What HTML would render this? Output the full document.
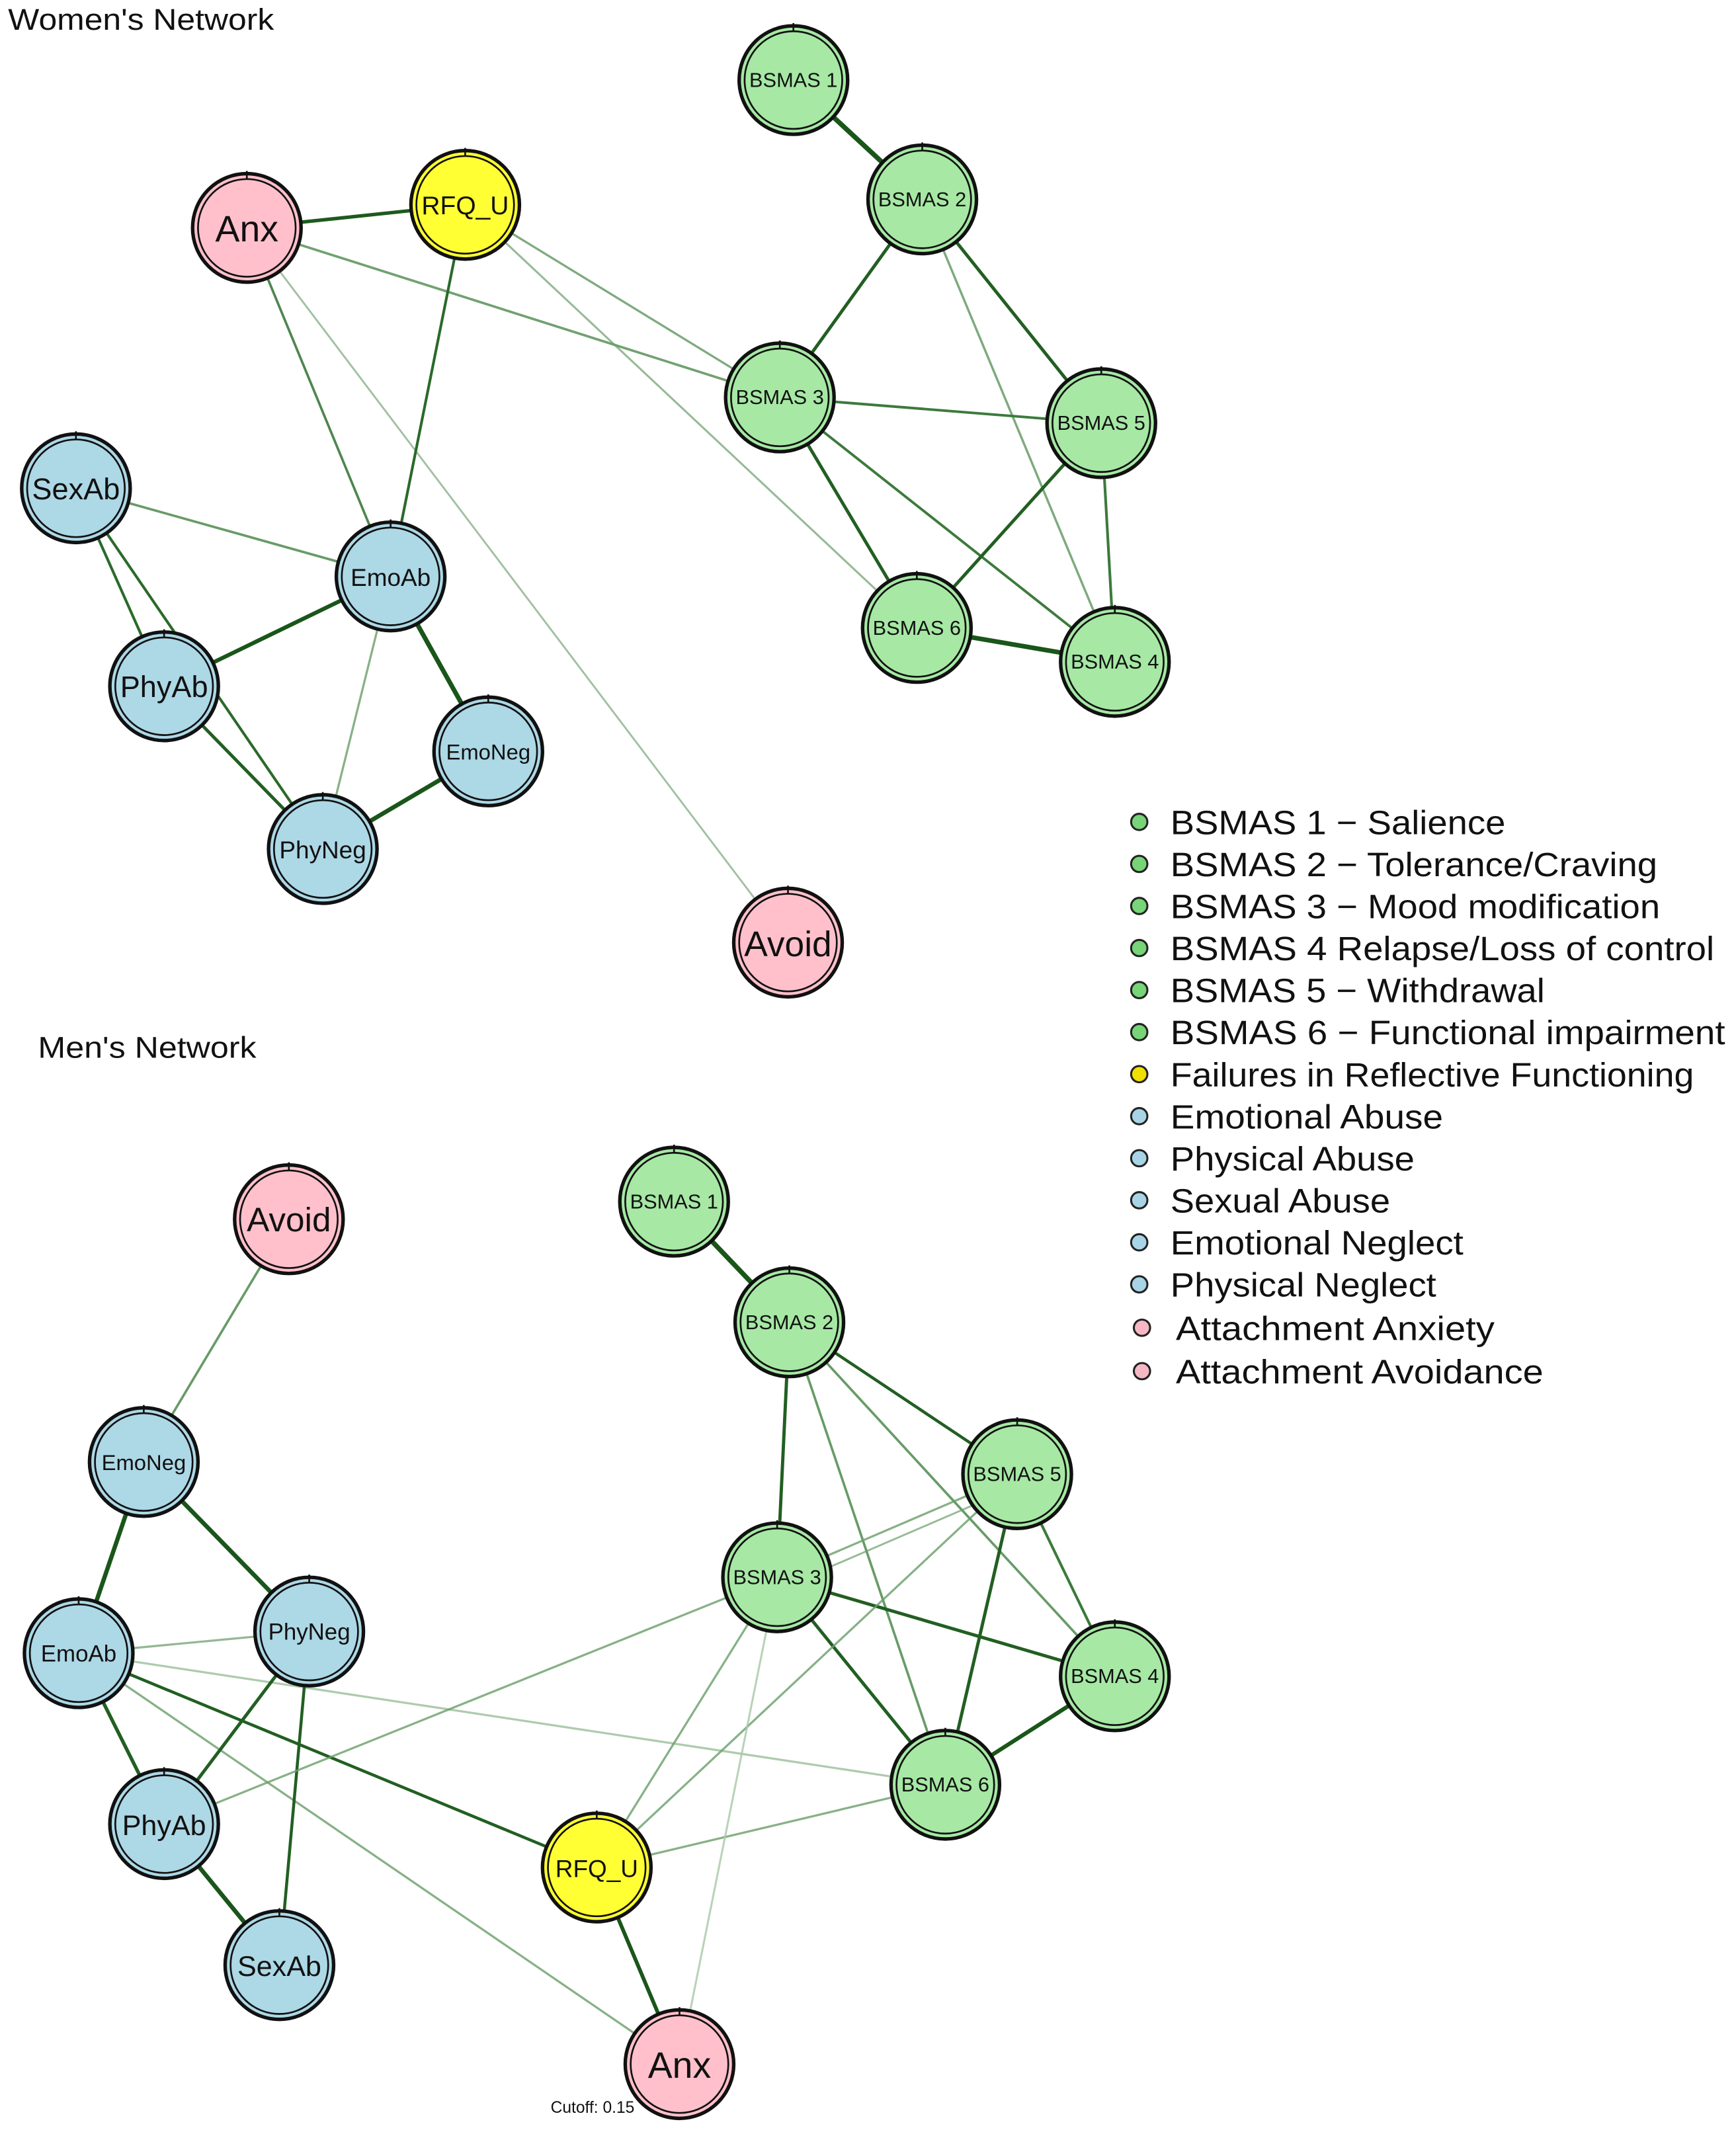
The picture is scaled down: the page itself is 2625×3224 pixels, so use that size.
<!DOCTYPE html>
<html><head><meta charset="utf-8"><style>
html,body{margin:0;padding:0;background:#fff;}
svg{display:block;}
text{font-family:"Liberation Sans",sans-serif;}
</style></head><body>
<svg width="2625" height="3224" viewBox="0 0 1280 1572" xmlns="http://www.w3.org/2000/svg">
<rect width="1280" height="1572" fill="#fff"/>
<text x="6" y="22" font-size="22" fill="#111" textLength="196" lengthAdjust="spacingAndGlyphs">Women's Network</text>
<text x="28" y="780" font-size="22" fill="#111" textLength="161" lengthAdjust="spacingAndGlyphs">Men's Network</text>

<!-- Women's edges -->
<g stroke-linecap="round">
<line x1="182" y1="168" x2="343" y2="151" stroke="#1d5a1d" stroke-width="2.6"/>
<line x1="182" y1="168" x2="575" y2="293" stroke="#4e8a4e" stroke-width="1.8" opacity="0.8"/>
<line x1="182" y1="168" x2="288" y2="425" stroke="#3c7a3c" stroke-width="1.8" opacity="0.9"/>
<line x1="182" y1="168" x2="581" y2="695" stroke="#7aa67a" stroke-width="1.4" opacity="0.7"/>
<line x1="343" y1="151" x2="288" y2="425" stroke="#2a6a2a" stroke-width="2"/>
<line x1="343" y1="151" x2="575" y2="293" stroke="#5e965e" stroke-width="1.6" opacity="0.8"/>
<line x1="343" y1="151" x2="676" y2="463" stroke="#6a9e6a" stroke-width="1.5" opacity="0.7"/>
<line x1="585" y1="59" x2="680" y2="147" stroke="#1a561a" stroke-width="3.6"/>
<line x1="680" y1="147" x2="575" y2="293" stroke="#225f22" stroke-width="2.4"/>
<line x1="680" y1="147" x2="812" y2="312" stroke="#225f22" stroke-width="2.4"/>
<line x1="680" y1="147" x2="822" y2="488" stroke="#5e965e" stroke-width="1.7" opacity="0.8"/>
<line x1="575" y1="293" x2="812" y2="312" stroke="#3c7a3c" stroke-width="1.9"/>
<line x1="575" y1="293" x2="676" y2="463" stroke="#225f22" stroke-width="2.4"/>
<line x1="575" y1="293" x2="822" y2="488" stroke="#3c7a3c" stroke-width="1.9"/>
<line x1="812" y1="312" x2="676" y2="463" stroke="#225f22" stroke-width="2.4"/>
<line x1="812" y1="312" x2="822" y2="488" stroke="#3c7a3c" stroke-width="2"/>
<line x1="676" y1="463" x2="822" y2="488" stroke="#1a561a" stroke-width="3.4"/>
<line x1="56" y1="360" x2="288" y2="425" stroke="#4e8a4e" stroke-width="1.8" opacity="0.85"/>
<line x1="56" y1="360" x2="121" y2="506" stroke="#2a6a2a" stroke-width="2"/>
<line x1="56" y1="360" x2="238" y2="626" stroke="#2a6a2a" stroke-width="2"/>
<line x1="288" y1="425" x2="121" y2="506" stroke="#1a561a" stroke-width="3"/>
<line x1="288" y1="425" x2="360" y2="554" stroke="#1a561a" stroke-width="3.4"/>
<line x1="288" y1="425" x2="238" y2="626" stroke="#6a9e6a" stroke-width="1.6" opacity="0.8"/>
<line x1="121" y1="506" x2="238" y2="626" stroke="#225f22" stroke-width="2.4"/>
<line x1="360" y1="554" x2="238" y2="626" stroke="#1a561a" stroke-width="3.2"/>
</g>

<!-- Men's edges -->
<g stroke-linecap="round">
<line x1="497" y1="886" x2="582" y2="975" stroke="#1a561a" stroke-width="3.6"/>
<line x1="582" y1="975" x2="573" y2="1163" stroke="#225f22" stroke-width="2.4"/>
<line x1="582" y1="975" x2="750" y2="1087" stroke="#225f22" stroke-width="2.2"/>
<line x1="582" y1="975" x2="697" y2="1316" stroke="#4e8a4e" stroke-width="1.8" opacity="0.85"/>
<line x1="582" y1="975" x2="822" y2="1236" stroke="#4e8a4e" stroke-width="1.8" opacity="0.85"/>
<line x1="573" y1="1163" x2="750" y2="1087" stroke="#6a9e6a" stroke-width="1.6" opacity="0.8"/>
<line x1="578" y1="1170" x2="752" y2="1095" stroke="#6a9e6a" stroke-width="1.4" opacity="0.7"/>
<line x1="573" y1="1163" x2="822" y2="1236" stroke="#225f22" stroke-width="2.4"/>
<line x1="573" y1="1163" x2="697" y2="1316" stroke="#225f22" stroke-width="2.4"/>
<line x1="750" y1="1087" x2="697" y2="1316" stroke="#225f22" stroke-width="2.4"/>
<line x1="750" y1="1087" x2="822" y2="1236" stroke="#3c7a3c" stroke-width="2"/>
<line x1="697" y1="1316" x2="822" y2="1236" stroke="#1a561a" stroke-width="3"/>
<line x1="213" y1="899" x2="106" y2="1078" stroke="#4e8a4e" stroke-width="1.8" opacity="0.85"/>
<line x1="106" y1="1078" x2="58" y2="1219" stroke="#1a561a" stroke-width="3.2"/>
<line x1="106" y1="1078" x2="228" y2="1203" stroke="#1a561a" stroke-width="3.2"/>
<line x1="58" y1="1219" x2="228" y2="1203" stroke="#7aa67a" stroke-width="1.6" opacity="0.8"/>
<line x1="58" y1="1219" x2="121" y2="1345" stroke="#225f22" stroke-width="2.6"/>
<line x1="58" y1="1219" x2="697" y2="1316" stroke="#9abf9a" stroke-width="1.6" opacity="0.8"/>
<line x1="58" y1="1219" x2="440" y2="1377" stroke="#225f22" stroke-width="2.2"/>
<line x1="58" y1="1219" x2="501" y2="1522" stroke="#6a9e6a" stroke-width="1.6" opacity="0.8"/>
<line x1="228" y1="1203" x2="121" y2="1345" stroke="#225f22" stroke-width="2.4"/>
<line x1="228" y1="1203" x2="206" y2="1449" stroke="#225f22" stroke-width="2.2"/>
<line x1="121" y1="1345" x2="206" y2="1449" stroke="#1a561a" stroke-width="3.2"/>
<line x1="121" y1="1345" x2="573" y2="1163" stroke="#6a9e6a" stroke-width="1.6" opacity="0.8"/>
<line x1="440" y1="1377" x2="573" y2="1163" stroke="#6a9e6a" stroke-width="1.6" opacity="0.8"/>
<line x1="440" y1="1377" x2="750" y2="1087" stroke="#6a9e6a" stroke-width="1.6" opacity="0.8"/>
<line x1="440" y1="1377" x2="697" y2="1316" stroke="#6a9e6a" stroke-width="1.6" opacity="0.8"/>
<line x1="440" y1="1377" x2="501" y2="1522" stroke="#1a561a" stroke-width="2.8"/>
<line x1="501" y1="1522" x2="573" y2="1163" stroke="#a8c8a8" stroke-width="1.5" opacity="0.8"/>
</g>

<defs>
<g id="n"><circle r="40" stroke="#111" stroke-width="2.6"/><circle r="36" fill="none" stroke="#111" stroke-width="1.3"/><line x1="0" y1="-42" x2="0" y2="-36" stroke="#111" stroke-width="1.3"/></g>
</defs>
<g font-size="15" text-anchor="middle" fill="#111">
<use href="#n" x="585" y="59" fill="#a6e8a4"/><text x="585" y="64">BSMAS 1</text>
<use href="#n" x="680" y="147" fill="#a6e8a4"/><text x="680" y="152">BSMAS 2</text>
<use href="#n" x="575" y="293" fill="#a6e8a4"/><text x="575" y="298">BSMAS 3</text>
<use href="#n" x="812" y="312" fill="#a6e8a4"/><text x="812" y="317">BSMAS 5</text>
<use href="#n" x="676" y="463" fill="#a6e8a4"/><text x="676" y="468">BSMAS 6</text>
<use href="#n" x="822" y="488" fill="#a6e8a4"/><text x="822" y="493">BSMAS 4</text>
<use href="#n" x="182" y="168" fill="#ffc0cb"/><text x="182" y="178" font-size="27">Anx</text>
<use href="#n" x="343" y="151" fill="#ffff33"/><text x="343" y="158" font-size="19">RFQ_U</text>
<use href="#n" x="56" y="360" fill="#add8e6"/><text x="56" y="368" font-size="22">SexAb</text>
<use href="#n" x="288" y="425" fill="#add8e6"/><text x="288" y="432" font-size="18">EmoAb</text>
<use href="#n" x="121" y="506" fill="#add8e6"/><text x="121" y="514" font-size="22">PhyAb</text>
<use href="#n" x="360" y="554" fill="#add8e6"/><text x="360" y="560" font-size="16">EmoNeg</text>
<use href="#n" x="238" y="626" fill="#add8e6"/><text x="238" y="633" font-size="18">PhyNeg</text>
<use href="#n" x="581" y="695" fill="#ffc0cb"/><text x="581" y="705" font-size="26">Avoid</text>
<use href="#n" x="497" y="886" fill="#a6e8a4"/><text x="497" y="891">BSMAS 1</text>
<use href="#n" x="582" y="975" fill="#a6e8a4"/><text x="582" y="980">BSMAS 2</text>
<use href="#n" x="750" y="1087" fill="#a6e8a4"/><text x="750" y="1092">BSMAS 5</text>
<use href="#n" x="573" y="1163" fill="#a6e8a4"/><text x="573" y="1168">BSMAS 3</text>
<use href="#n" x="822" y="1236" fill="#a6e8a4"/><text x="822" y="1241">BSMAS 4</text>
<use href="#n" x="697" y="1316" fill="#a6e8a4"/><text x="697" y="1321">BSMAS 6</text>
<use href="#n" x="213" y="899" fill="#ffc0cb"/><text x="213" y="908" font-size="25">Avoid</text>
<use href="#n" x="106" y="1078" fill="#add8e6"/><text x="106" y="1084" font-size="16">EmoNeg</text>
<use href="#n" x="228" y="1203" fill="#add8e6"/><text x="228" y="1209" font-size="17">PhyNeg</text>
<use href="#n" x="58" y="1219" fill="#add8e6"/><text x="58" y="1225" font-size="17">EmoAb</text>
<use href="#n" x="121" y="1345" fill="#add8e6"/><text x="121" y="1353" font-size="21">PhyAb</text>
<use href="#n" x="206" y="1449" fill="#add8e6"/><text x="206" y="1457" font-size="21">SexAb</text>
<use href="#n" x="440" y="1377" fill="#ffff33"/><text x="440" y="1384" font-size="18">RFQ_U</text>
<use href="#n" x="501" y="1522" fill="#ffc0cb"/><text x="501" y="1532" font-size="27">Anx</text>
</g>
<text x="406" y="1558" font-size="12" fill="#111">Cutoff: 0.15</text>

<g stroke="#222" stroke-width="1.5">
<circle cx="840" cy="606" r="6" fill="#77d477"/>
<circle cx="840" cy="637" r="6" fill="#77d477"/>
<circle cx="840" cy="668" r="6" fill="#77d477"/>
<circle cx="840" cy="699" r="6" fill="#77d477"/>
<circle cx="840" cy="730" r="6" fill="#77d477"/>
<circle cx="840" cy="761" r="6" fill="#77d477"/>
<circle cx="840" cy="792" r="6" fill="#f0e000"/>
<circle cx="840" cy="823" r="6" fill="#a8d4e6"/>
<circle cx="840" cy="854" r="6" fill="#a8d4e6"/>
<circle cx="840" cy="885" r="6" fill="#a8d4e6"/>
<circle cx="840" cy="916" r="6" fill="#a8d4e6"/>
<circle cx="840" cy="947" r="6" fill="#a8d4e6"/>
<circle cx="842" cy="979" r="6" fill="#f5b8c4"/>
<circle cx="842" cy="1011" r="6" fill="#f5b8c4"/>
</g>
<g font-size="25" fill="#111" lengthAdjust="spacingAndGlyphs">
<text x="863" y="615" textLength="247" lengthAdjust="spacingAndGlyphs">BSMAS 1 − Salience</text>
<text x="863" y="646" textLength="359" lengthAdjust="spacingAndGlyphs">BSMAS 2 − Tolerance/Craving</text>
<text x="863" y="677" textLength="361" lengthAdjust="spacingAndGlyphs">BSMAS 3 − Mood modification</text>
<text x="863" y="708" textLength="401" lengthAdjust="spacingAndGlyphs">BSMAS 4 Relapse/Loss of control</text>
<text x="863" y="739" textLength="276" lengthAdjust="spacingAndGlyphs">BSMAS 5 − Withdrawal</text>
<text x="863" y="770" textLength="409" lengthAdjust="spacingAndGlyphs">BSMAS 6 − Functional impairment</text>
<text x="863" y="801" textLength="386" lengthAdjust="spacingAndGlyphs">Failures in Reflective Functioning</text>
<text x="863" y="832" textLength="201" lengthAdjust="spacingAndGlyphs">Emotional Abuse</text>
<text x="863" y="863" textLength="180" lengthAdjust="spacingAndGlyphs">Physical Abuse</text>
<text x="863" y="894" textLength="162" lengthAdjust="spacingAndGlyphs">Sexual Abuse</text>
<text x="863" y="925" textLength="216" lengthAdjust="spacingAndGlyphs">Emotional Neglect</text>
<text x="863" y="956" textLength="196" lengthAdjust="spacingAndGlyphs">Physical Neglect</text>
<text x="867" y="988" textLength="235" lengthAdjust="spacingAndGlyphs">Attachment Anxiety</text>
<text x="867" y="1020" textLength="271" lengthAdjust="spacingAndGlyphs">Attachment Avoidance</text>
</g>
</svg>
</body></html>
